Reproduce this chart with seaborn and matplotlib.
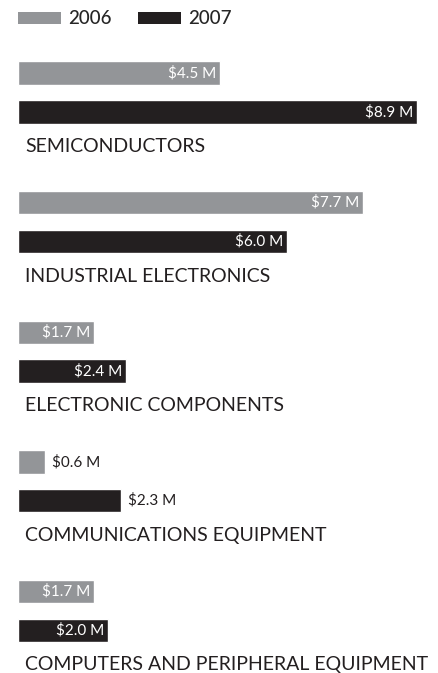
import matplotlib
matplotlib.use("Agg")
import matplotlib.pyplot as plt
import seaborn as sns
import pandas as pd
from matplotlib.patches import Patch

categories = [
    "SEMICONDUCTORS",
    "INDUSTRIAL ELECTRONICS",
    "ELECTRONIC COMPONENTS",
    "COMMUNICATIONS EQUIPMENT",
    "COMPUTERS AND PERIPHERAL EQUIPMENT",
]
years = ["2006", "2007"]
values_2006 = [4.5, 7.7, 1.7, 0.6, 1.7]
values_2007 = [8.9, 6.0, 2.4, 2.3, 2.0]

# value labels that sit beside the bar rather than inside it
outside_labels = {("COMMUNICATIONS EQUIPMENT", "2006"), ("COMMUNICATIONS EQUIPMENT", "2007")}

colors = {"2006": "#939598", "2007": "#231f20"}

rows = []
for cat, a, b in zip(categories, values_2006, values_2007):
    rows.append({"category": cat, "year": "2006", "value": a})
    rows.append({"category": cat, "year": "2007", "value": b})
df = pd.DataFrame(rows)

sns.set_theme(style="white")
plt.rcParams["font.family"] = ["Lato", "DejaVu Sans"]

W, H, DPI = 439, 673, 100
fig = plt.figure(figsize=(W / DPI, H / DPI), dpi=DPI)
ax = fig.add_axes([18 / W, 0, 1 - 18 / W, 1])

sns.barplot(
    data=df, y="category", x="value", hue="year", order=categories,
    hue_order=years, palette=colors, orient="h", width=0.6, gap=0.4,
    saturation=1, ax=ax, legend=False,
)

px_per_unit_x = 44.8
ax.set_xlim(0, (W - 18) / px_per_unit_x)
unit_px = 129.6
first_center = 92.5
ax.set_ylim((H - first_center) / unit_px, -first_center / unit_px)
ax.axis("off")

label_font = ["Lato", "DejaVu Sans"]
for container, year in zip(ax.containers, years):
    for bar, cat in zip(container, categories):
        v = bar.get_width()
        yc = bar.get_y() + bar.get_height() / 2
        text = f"${v:.1f} M"
        if (cat, year) in outside_labels:
            ax.annotate(text, xy=(v, yc), xytext=(5, 0), textcoords="offset points",
                        ha="left", va="center", fontsize=11, color="#231f20",
                        family=label_font)
        else:
            ax.annotate(text, xy=(v, yc), xytext=(-2.5, 0), textcoords="offset points",
                        ha="right", va="center", fontsize=11, color="white",
                        family=label_font)

for i, cat in enumerate(categories):
    ax.annotate(cat, xy=(0, i + 54 / unit_px), xytext=(5, 0),
                textcoords="offset points", ha="left", va="center",
                fontsize=14.0, color="#231f20")

# legend swatches
handles = [Patch(facecolor=colors[y], edgecolor="none", label=y) for y in years]
fig.legend(handles=handles, loc="upper left", bbox_to_anchor=(10 / W, 1 - 3 / H),
           ncol=2, frameon=False, handlelength=2.3, handleheight=0.6,
           handletextpad=0.4, columnspacing=1.4, borderaxespad=0,
           prop={"family": ["Lato", "DejaVu Sans"], "size": 13.5, "weight": "medium"})

fig.savefig("out.png", dpi=DPI)
